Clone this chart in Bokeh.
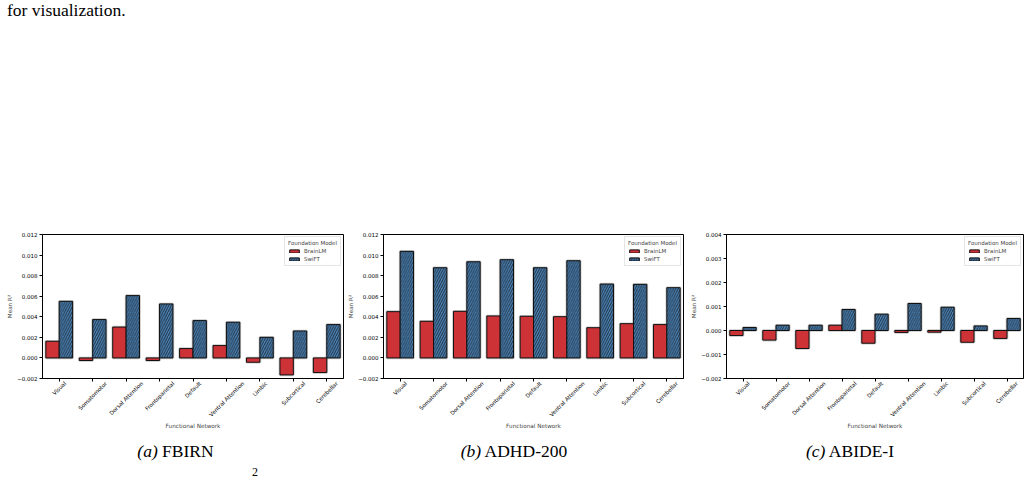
import math
from bokeh.plotting import figure
from bokeh.models import (ColumnDataSource, Range1d, FixedTicker, Legend,
                          LegendItem, LinearAxis, CustomJSTickFormatter, Div)
from bokeh.transform import dodge
from bokeh.layouts import row, column
from bokeh.embed import file_html
from bokeh.resources import INLINE

# ---------------- data ----------------
networks = ["Visual", "Somatomotor", "Dorsal Attention", "Frontoparietal", "Default",
            "Ventral Attention", "Limbic", "Subcortical", "Cerebellar"]
models = ["BrainLM", "SwiFT"]

fbirn_brainlm = [0.00162, -0.00025, 0.00300, -0.00025, 0.00091, 0.00120, -0.00042, -0.00165, -0.00142]
fbirn_swift = [0.00550, 0.00373, 0.00606, 0.00525, 0.00363, 0.00347, 0.00200, 0.00262, 0.00324]

adhd_brainlm = [0.00450, 0.00356, 0.00453, 0.00408, 0.00405, 0.00401, 0.00294, 0.00333, 0.00324]
adhd_swift = [0.01036, 0.00877, 0.00935, 0.00955, 0.00877, 0.00945, 0.00718, 0.00715, 0.00683]

abide_brainlm = [-0.00021, -0.00040, -0.00075, 0.00022, -0.00053, -0.00008, -0.00007, -0.00049, -0.00033]
abide_swift = [0.000125, 0.00022, 0.00022, 0.000875, 0.00068, 0.001125, 0.00097, 0.00019, 0.00050]

yticks_ab = [-0.002, 0.000, 0.002, 0.004, 0.006, 0.008, 0.010, 0.012]
yticks_c = [-0.002, -0.001, 0.000, 0.001, 0.002, 0.003, 0.004]

captions = [("(a)", "FBIRN"), ("(b)", "ADHD-200"), ("(c)", "ABIDE-I")]
legend_title = "Foundation Model"
x_label = "Functional Network"
y_label = "Mean R²"
top_text = "for visualization."
cut_line_text = "2"

# ---------------- style ----------------
RED = "#cd3237"
BLUE = "#4a82b6"
EDGE = "#111111"
HALO = "#9a9a9a"
SANS = "DejaVu Sans"
FS = 5.5
TOP_H = 24          # height of the text strip above the panels
BOTTOM_H = 40       # height of the caption strip below the panels
FIG_H = 480 - TOP_H - BOTTOM_H
FRAME_TOP = 234 - TOP_H
FRAME_H = 144
FRAME_W = 301
PX_PER_CAT = FRAME_W / len(networks)

# DejaVu Sans advance widths (em) for estimating rotated label extents
DV = {"V": .684, "i": .278, "s": .521, "u": .634, "a": .613, "l": .278, "S": .635, "o": .612,
      "m": .974, "t": .392, "r": .411, "D": .770, " ": .318, "A": .684, "e": .615, "n": .634,
      "F": .575, "p": .635, "f": .352, "L": .557, "b": .635, "c": .550, "C": .698}


def text_w(s, fs):
    return sum(DV.get(ch, 0.6) for ch in s) * fs


yfmt = CustomJSTickFormatter(code="""
    const v = Math.abs(tick) < 1e-12 ? 0 : tick;
    return (v < 0 ? "\u2212" : "") + Math.abs(v).toFixed(3);
""")


def make_panel(brainlm, swift, ylo, yhi, yticks, fig_w, left_border):
    n = len(networks)
    p = figure(x_range=Range1d(-0.5, n - 0.5), y_range=Range1d(ylo, yhi),
               width=fig_w, height=FIG_H, output_backend="svg", toolbar_location=None,
               min_border_left=left_border, min_border_right=fig_w - left_border - FRAME_W,
               min_border_top=FRAME_TOP, min_border_bottom=FIG_H - FRAME_TOP - FRAME_H)
    p.background_fill_color = "white"
    p.border_fill_color = "white"
    p.outline_line_color = "black"
    p.outline_line_width = 1
    p.grid.visible = False

    src = ColumnDataSource(dict(pos=list(range(n)), net=networks, brainlm=brainlm, swift=swift))
    # soft grey halo round every bar
    for col, off in (("brainlm", -0.2), ("swift", 0.2)):
        p.vbar(x=dodge("pos", off), top=col, width=0.4, source=src, fill_color=None,
               line_color=HALO, line_alpha=0.55, line_width=2.6)
    r1 = p.vbar(x=dodge("pos", -0.2), top="brainlm", width=0.4, source=src,
                fill_color=RED, line_color=EDGE, line_width=1)
    r2 = p.vbar(x=dodge("pos", 0.2), top="swift", width=0.4, source=src,
                fill_color=BLUE, line_color=EDGE, line_width=1,
                hatch_pattern="/", hatch_color="#111111", hatch_scale=4.8, hatch_weight=0.75)

    # y axis
    p.yaxis.ticker = FixedTicker(ticks=yticks, minor_ticks=[])
    p.yaxis.formatter = yfmt
    p.yaxis.axis_label = y_label
    p.yaxis.axis_label_standoff = 1
    p.yaxis.axis_label_text_font = SANS
    p.yaxis.axis_label_text_font_size = f"{FS + 0.2}px"
    p.yaxis.axis_label_text_font_style = "normal"
    # main x axis: ticks only at the category centres
    p.xaxis.ticker = FixedTicker(ticks=list(range(n)), minor_ticks=[])
    p.xaxis.formatter = CustomJSTickFormatter(code='return "";')
    for ax in (p.xaxis, p.yaxis):
        ax.axis_line_color = "black"
        ax.axis_line_width = 1
        ax.major_tick_line_color = "black"
        ax.major_tick_out = 3
        ax.major_tick_in = 0
        ax.minor_tick_line_color = None
        ax.major_label_text_font = SANS
        ax.major_label_text_font_size = f"{FS}px"
        ax.major_label_text_color = "black"
        ax.major_label_standoff = 2
    p.xaxis.major_label_text_font_size = "0px"
    p.xaxis.major_label_standoff = 0

    # label axis: rotated names, shifted so each rotated box is centred under its tick
    shifts = [0.3536 * text_w(nm, FS) / PX_PER_CAT for nm in networks]
    label_ticks = [i + s for i, s in enumerate(shifts)]
    lab_ax = LinearAxis(ticker=FixedTicker(ticks=label_ticks, minor_ticks=[]),
                        formatter=CustomJSTickFormatter(args=dict(names=networks),
                                                        code="return names[Math.floor(tick + 1e-9)];"))
    lab_ax.major_tick_line_color = None
    lab_ax.major_tick_out = 0
    lab_ax.major_tick_in = 0
    lab_ax.minor_tick_line_color = None
    lab_ax.axis_line_color = None
    lab_ax.major_label_orientation = math.pi / 4
    lab_ax.major_label_standoff = 1
    lab_ax.major_label_text_font = SANS
    lab_ax.major_label_text_font_size = f"{FS}px"
    lab_ax.major_label_text_color = "black"
    lab_ax.axis_label = x_label
    lab_ax.axis_label_standoff = 0
    lab_ax.axis_label_text_font = SANS
    lab_ax.axis_label_text_font_size = f"{FS + 0.2}px"
    lab_ax.axis_label_text_font_style = "normal"
    p.add_layout(lab_ax, "below")

    legend = Legend(items=[LegendItem(label=models[0], renderers=[r1]),
                           LegendItem(label=models[1], renderers=[r2])],
                    title=legend_title, location="top_right")
    legend.title_text_font = SANS
    legend.title_text_font_size = f"{FS}px"
    legend.title_text_font_style = "normal"
    legend.title_standoff = 1
    legend.label_text_font = SANS
    legend.label_text_font_size = f"{FS}px"
    legend.label_height = 7
    legend.glyph_height = 4
    legend.glyph_width = 12
    legend.label_standoff = 4
    legend.padding = 3
    legend.spacing = 1
    legend.margin = 2
    legend.border_line_color = "#cccccc"
    legend.border_line_width = 1
    legend.background_fill_alpha = 0.8
    p.add_layout(legend)
    return p


pa = make_panel(fbirn_brainlm, fbirn_swift, -0.002, 0.012, yticks_ab, 345, 42)
pb = make_panel(adhd_brainlm, adhd_swift, -0.002, 0.012, yticks_ab, 343, 37)
pc = make_panel(abide_brainlm, abide_swift, -0.002, 0.004, yticks_c, 343, 34)

# ---------------- surrounding document text ----------------
serif_css = "font-family:'Liberation Serif','Times New Roman',serif;color:#000;white-space:nowrap;line-height:1;position:absolute;"

top_html = (f'<div style="position:relative;width:1031px;height:{TOP_H}px;margin:0;padding:0;">'
            f'<span style="{serif_css}left:7px;top:2px;font-size:17.5px;">{top_text}</span></div>')
top_div = Div(text=top_html, width=1031, height=TOP_H, margin=(0, 0, 0, 0))

cap_centres = [175.5, 514, 850]
spans = []
for (tag, name), cx in zip(captions, cap_centres):
    spans.append(f'<span style="{serif_css}left:{cx}px;top:3px;font-size:17.5px;'
                 f'transform:translateX(-50%);"><i>{tag}</i> {name}</span>')
spans.append(f'<span style="{serif_css}left:252px;top:26px;font-size:12px;">{cut_line_text}</span>')
bottom_html = (f'<div style="position:relative;width:1031px;height:{BOTTOM_H}px;margin:0;padding:0;">'
               + "".join(spans) + '</div>')
bottom_div = Div(text=bottom_html, width=1031, height=BOTTOM_H, margin=(0, 0, 0, 0))

layout = column(top_div, row(pa, pb, pc, spacing=0), bottom_div, spacing=0)
open("out.html", "w").write(file_html(layout, INLINE))
